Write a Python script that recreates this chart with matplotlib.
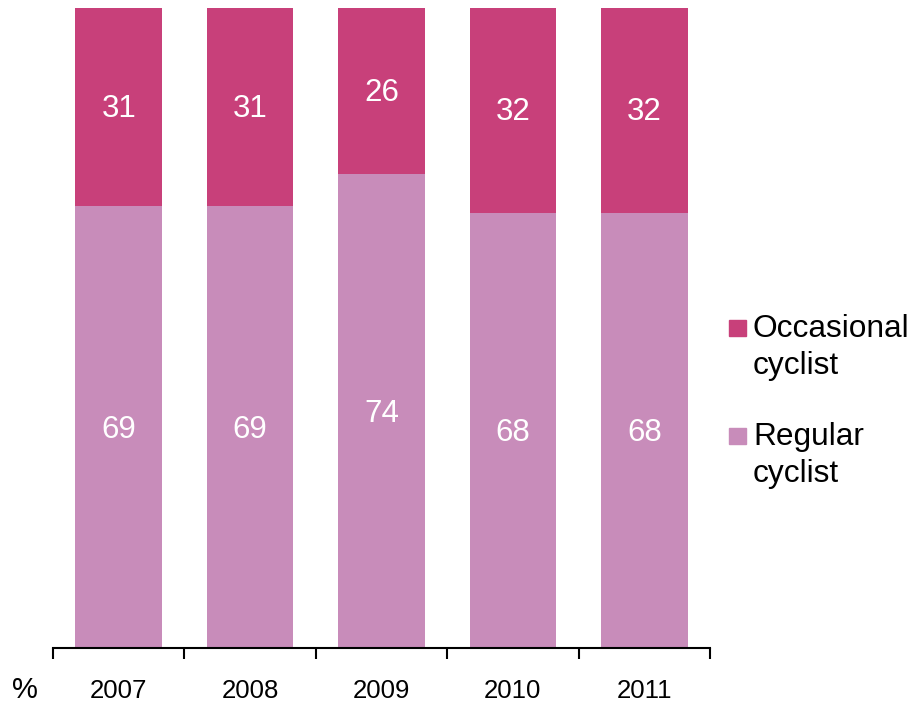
import matplotlib
matplotlib.use('Agg')

import matplotlib.patches as mpatches
import matplotlib.pyplot as plt
import numpy as np

plt.rcParams['font.family'] = ['Liberation Sans', 'DejaVu Sans']

years = ['2007', '2008', '2009', '2010', '2011']
regular = [69, 69, 74, 68, 68]
occasional = [31, 31, 26, 32, 32]
series_names = [['Occasional', 'cyclist'], ['Regular', 'cyclist']]

c_occ = "#c8407a"
c_reg = "#c88cba"

W, H = 924, 704
fig = plt.figure(figsize=(W / 100, H / 100), dpi=100)
ax = fig.add_axes([53 / W, 56 / H, 657 / W, 640 / H])

x = np.arange(len(years))
width = 0.66
ax.bar(x, regular, width, color=c_reg)
ax.bar(x, occasional, width, bottom=regular, color=c_occ)

for i in range(len(years)):
    ax.annotate(str(regular[i]), (x[i], regular[i] / 2), xytext=(0, -3),
                textcoords='offset pixels', ha='center', va='center',
                color='white', fontsize=22.5)
    ax.annotate(str(occasional[i]), (x[i], regular[i] + occasional[i] / 2),
                xytext=(0, -2), textcoords='offset pixels', ha='center',
                va='center', color='white', fontsize=22.5)

ax.set_xlim(-0.5, len(years) - 0.5)
ax.set_ylim(0, 100)
ax.set_yticks([])
for s in ['top', 'right', 'left']:
    ax.spines[s].set_visible(False)
ax.spines['bottom'].set_linewidth(1.5)

# ticks between categories, labels under bars
ax.set_xticks(np.arange(-0.5, len(years), 1.0))
ax.set_xticklabels([])
ax.tick_params(axis='x', direction='out', length=8, width=1.5)
ax.set_xticks(x, minor=True)
ax.set_xticklabels(years, minor=True, fontsize=18.5)
ax.tick_params(axis='x', which='minor', length=0, pad=22)

fig.text(25 / W, 1 - 690 / H, '%', fontsize=21, ha='center', va='center')

# legend drawn by hand: square lines up with the first text line
leg_colors = [c_occ, c_reg]
leg_top = [320, 428]
for col, top, lines in zip(leg_colors, leg_top, series_names):
    fig.add_artist(mpatches.Rectangle((729 / W, 1 - (top + 16) / H), 17 / W, 16 / H,
                                      transform=fig.transFigure, color=col))
    for k, line in enumerate(lines):
        fig.text(753 / W, 1 - (top + 17 + 37 * k) / H, line, fontsize=22.8,
                 ha='left', va='baseline')

fig.savefig('out.png', dpi=100)
